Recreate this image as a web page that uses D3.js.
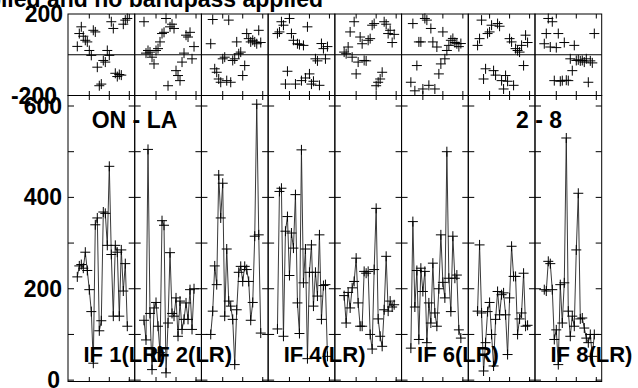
<!DOCTYPE html>
<html><head><meta charset="utf-8">
<script src="https://cdn.jsdelivr.net/npm/d3@7"></script>
<style>
body{margin:0;background:#fff}
svg{display:block}
text{font-family:"Liberation Sans",Arial,Helvetica,sans-serif;font-weight:bold;fill:#000}
</style>
</head><body>
<svg id="c" width="638" height="388"></svg>
<script>
// ---- data ----
const titleText = "Plot file version 1 created with calibration applied and no bandpass applied";
const baselineLabel = "ON - LA";
const stokesLabel = "2 - 8";
const ifLabels = ["IF 1(LR)","IF 2(LR)","IF 3(LR)","IF 4(LR)","IF 5(LR)","IF 6(LR)","IF 7(LR)","IF 8(LR)"];
const ifLabelShown = [true,true,false,true,false,true,false,true];
const channels = d3.range(4, 30);
const chanTicks = [10, 20, 30];
const ampTicks = [0,100,200,300,400,500,600];
const ampTickLabels = [0,200,400,600];
const phaseTickLabels = [200,-200];

const amp1 = [226,250,253,245,280,240,198,150,37,340,355,108,130,368,365,295,468,275,140,295,280,140,285,195,255,118];
const amp2 = [131,88,505,146,23,158,170,118,60,349,339,16,125,279,146,140,180,96,173,111,133,169,133,198,111,200];
const amp3 = [100,151,250,209,449,355,431,140,287,173,162,133,34,154,236,249,216,249,242,216,131,170,315,604,318,103];
const amp4 = [112,413,420,96,326,358,229,322,289,406,169,102,504,213,287,47,236,296,162,236,184,318,133,207,209,52];
const amp5 = [185,125,192,158,202,216,267,169,118,118,238,234,238,100,68,242,376,134,96,74,154,271,151,173,160,165];
const amp6 = [70,347,160,240,89,245,194,238,82,169,125,256,147,118,200,318,214,180,500,223,150,315,223,230,110,92];
const amp7 = [151,296,147,20,82,150,170,100,31,133,194,143,187,191,143,56,180,293,227,227,100,134,147,234,118,120];
const amp8 = [198,195,260,255,198,89,110,34,209,125,213,530,151,96,140,118,285,409,134,136,114,92,82,100,52,100];

const pha1 = [41,104,137,91,71,63,21,-3,120,112,-61,-152,-144,-28,-36,21,-3,162,129,-91,-107,-97,-100,150,170,178];
const pha2 = [162,8,21,13,-12,-45,21,30,63,104,110,178,-152,137,150,129,-78,-102,-127,-36,8,96,87,110,-20,40];
const pha3 = [54,173,-69,-86,-119,-135,-20,-12,-127,170,-135,-28,-20,63,5,13,-102,-53,104,79,63,71,63,54,120,60];
const pha4 = [104,112,162,145,-144,-81,178,104,71,-144,54,50,-127,46,-114,137,-94,-144,-130,-20,-30,-150,55,30,-20,40];
const pha5 = [13,5,38,112,-12,162,-94,-36,87,54,-28,-30,71,79,145,153,-152,-135,-119,-86,162,150,104,120,60,100];
const pha6 = [-135,153,-177,-53,63,63,-168,178,170,-150,129,63,-168,38,-94,-45,112,-20,21,46,71,80,60,54,40,55];
const pha7 = [46,79,170,-119,-69,104,112,145,-78,-100,153,140,-127,-168,-102,-130,79,63,-150,30,21,13,46,-53,96,60];
const pha8 = [54,104,178,38,162,-127,35,104,-130,-127,60,-125,-127,-20,-78,46,-28,-25,-30,-28,-36,-20,-135,-30,-40,104];

const amps = [amp1,amp2,amp3,amp4,amp5,amp6,amp7,amp8];
const phases = [pha1,pha2,pha3,pha4,pha5,pha6,pha7,pha8];

// ---- layout ----
const L = 68, R = 601.7;
const phTop = 14, mid = 95.5, ampBot = 381.5;
const svg = d3.select("#c");

const colScale = d3.scaleBand().domain(d3.range(8)).range([L, R]).paddingInner(0).paddingOuter(0);
const colW = colScale.bandwidth();
const yPh = d3.scaleLinear().domain([-200, 200]).range([mid, phTop]);
const yAmp = d3.scaleLinear().domain([-3, 623]).range([ampBot, mid]);

const crossPath = "M-5,0H5M0,-5V5";
const tickLen = 6, xTickLen = 4.5;

// title (mostly clipped above the canvas)
svg.append("text").attr("x", 323).attr("y", 7).attr("text-anchor", "end")
  .attr("font-size", 23).text(titleText);

// y tick labels
svg.selectAll("text.pl").data(phaseTickLabels).join("text").attr("class","pl")
  .attr("x", d => d > 0 ? 63 : 57).attr("y", d => yPh(d)).attr("dy", "0.35em")
  .attr("text-anchor", "end").attr("font-size", 23).text(d => d);
svg.selectAll("text.al").data(ampTickLabels).join("text").attr("class","al")
  .attr("x", d => d === 0 ? 60 : 62).attr("y", d => yAmp(d)).attr("dy", "0.35em")
  .attr("text-anchor", "end").attr("font-size", 23).text(d => d);

const g = svg.append("g");

d3.range(8).forEach(i => {
  const x0 = colScale(i);
  const x = d3.scaleLinear().domain([-0.65, 32.7]).range([x0, x0 + colW]);
  const col = g.append("g");

  // frames
  col.append("rect").attr("x", x0).attr("y", phTop).attr("width", colW).attr("height", mid - phTop)
    .attr("fill", "none").attr("stroke", "#000").attr("stroke-width", 1);
  col.append("rect").attr("x", x0).attr("y", mid).attr("width", colW).attr("height", ampBot - mid)
    .attr("fill", "none").attr("stroke", "#000").attr("stroke-width", 1);

  // zero phase line
  col.append("line").attr("x1", x0).attr("x2", x0 + colW).attr("y1", yPh(0)).attr("y2", yPh(0))
    .attr("stroke", "#000").attr("stroke-width", 1);

  // amplitude y ticks (both edges, inward)
  ampTicks.forEach(t => {
    const yy = yAmp(t);
    col.append("line").attr("x1", x0).attr("x2", x0 + tickLen).attr("y1", yy).attr("y2", yy)
      .attr("stroke", "#000").attr("stroke-width", 1);
    col.append("line").attr("x1", x0 + colW - tickLen).attr("x2", x0 + colW).attr("y1", yy).attr("y2", yy)
      .attr("stroke", "#000").attr("stroke-width", 1);
  });

  // channel ticks on all horizontal edges
  chanTicks.forEach(c => {
    const xx = x(c);
    [[phTop, 1], [mid, -1], [mid, 1], [ampBot, -1]].forEach(([yy, dir]) => {
      col.append("line").attr("x1", xx).attr("x2", xx).attr("y1", yy).attr("y2", yy + dir * xTickLen)
        .attr("stroke", "#000").attr("stroke-width", 1);
    });
  });

  // phase crosses
  const ph = phases[i];
  col.selectAll("path.pc").data(channels.map((c, k) => [c, ph[k]])).join("path").attr("class","pc")
    .attr("transform", d => `translate(${x(d[0])},${yPh(d[1])})`)
    .attr("d", crossPath).attr("stroke", "#000").attr("stroke-width", 1).attr("fill", "none");

  // amplitude line + crosses
  const am = amps[i];
  const pts = channels.map((c, k) => [c, am[k]]);
  col.append("path").datum(pts)
    .attr("d", d3.line().x(d => x(d[0])).y(d => yAmp(d[1])))
    .attr("fill", "none").attr("stroke", "#222").attr("stroke-width", 0.9);
  col.selectAll("path.ac").data(pts).join("path").attr("class","ac")
    .attr("transform", d => `translate(${x(d[0])},${yAmp(d[1])})`)
    .attr("d", crossPath).attr("stroke", "#000").attr("stroke-width", 1).attr("fill", "none");

  if (ifLabelShown[i]) {
    svg.append("text").attr("x", x0 + 15.5).attr("y", 361.7).attr("font-size", 22).text(ifLabels[i]);
  }
});

svg.append("text").attr("x", 91.7).attr("y", 128.3).attr("font-size", 23).text(baselineLabel);
svg.append("text").attr("x", 562).attr("y", 128.3).attr("text-anchor", "end").attr("font-size", 23).text(stokesLabel);
</script>
</body></html>
